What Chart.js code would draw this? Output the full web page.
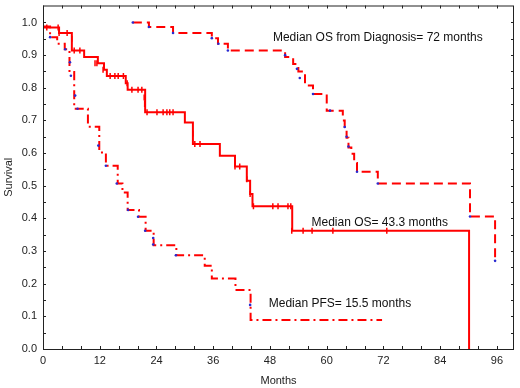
<!DOCTYPE html>
<html>
<head>
<meta charset="utf-8">
<script src="https://cdn.jsdelivr.net/npm/chart.js@4"></script>
<style>
  html, body { margin: 0; padding: 0; background: #fff; }
  #wrap { width: 520px; height: 388px; }
</style>
</head>
<body>
<div id="wrap"><canvas id="km"></canvas></div>
<script>
// ---- data (months, survival) ----
// Overall survival (solid)
const osTime = [0, 3.4, 6.1, 8.7, 11.6, 12.9, 13.5, 17.5, 17.9, 21.6, 30.0, 31.7, 37.4, 40.6, 43.1, 43.8, 44.3, 52.7, 90.1];
const osSurv = [0.985, 0.968, 0.914, 0.894, 0.875, 0.855, 0.836, 0.814, 0.794, 0.725, 0.694, 0.628, 0.592, 0.559, 0.515, 0.475, 0.437, 0.362, 0];
const osCensTime = [0.8, 3.2, 3.4, 5.1, 6.1, 6.6, 7.8, 11.0, 11.4, 12.7, 14.2, 15.2, 15.9, 17.0, 17.8, 18.8, 20.1, 20.9, 21.4, 21.5, 22.0, 24.1, 25.4, 26.2, 26.8, 27.5, 31.7, 32.1, 33.2, 40.6, 41.6, 43.1, 43.8, 44.5, 48.6, 49.7, 51.8, 52.4, 52.6, 55.0, 56.9, 61.3, 72.7];
const osCensSurv = [0.985, 0.985, 0.968, 0.968, 0.95, 0.914, 0.914, 0.875, 0.875, 0.855, 0.836, 0.836, 0.836, 0.836, 0.814, 0.794, 0.794, 0.794, 0.77, 0.75, 0.725, 0.725, 0.725, 0.725, 0.725, 0.725, 0.66, 0.628, 0.628, 0.559, 0.559, 0.52, 0.475, 0.437, 0.437, 0.437, 0.437, 0.437, 0.362, 0.362, 0.362, 0.362, 0.362];

// Progression-free survival (dash-dot)
const pfsTime = [0, 1.5, 3.0, 4.6, 5.6, 6.6, 9.5, 11.9, 13.3, 15.8, 16.8, 17.9, 20.3, 21.7, 23.4, 28.2, 34.2, 35.7, 40.7, 43.9, 71.7];
const pfsSurv = [0.988, 0.955, 0.935, 0.918, 0.848, 0.736, 0.681, 0.602, 0.561, 0.507, 0.479, 0.426, 0.405, 0.362, 0.318, 0.287, 0.255, 0.216, 0.181, 0.089, 0.089];
const pfsCensTime = [1.5, 4.7, 5.7, 5.9, 6.8, 7.3, 11.7, 13.3, 15.6, 18.0, 20.1, 21.6, 23.3, 23.3, 28.1, 43.8];
const pfsCensSurv = [0.955, 0.918, 0.878, 0.837, 0.776, 0.736, 0.623, 0.561, 0.507, 0.426, 0.405, 0.362, 0.34, 0.32, 0.287, 0.135];

// OS from diagnosis (dashed)
const dxTime = [19.0, 22.4, 27.5, 35.7, 37.0, 39.1, 51.2, 52.9, 54.0, 55.4, 57.1, 60.0, 63.4, 63.8, 64.2, 64.6, 65.2, 65.8, 66.4, 70.8, 90.3, 95.6];
const dxSurv = [1.0, 0.986, 0.968, 0.952, 0.935, 0.914, 0.894, 0.873, 0.85, 0.807, 0.781, 0.73, 0.70, 0.675, 0.647, 0.617, 0.598, 0.57, 0.543, 0.507, 0.406, 0.27];
const dxCensTime = [19.0, 22.4, 27.5, 35.7, 37.1, 39.1, 51.2, 53.7, 54.3, 57.1, 60.7, 63.8, 64.2, 64.6, 66.4, 70.8, 90.3, 95.6];
const dxCensSurv = [1.0, 0.986, 0.968, 0.952, 0.935, 0.914, 0.90, 0.858, 0.83, 0.781, 0.73, 0.68, 0.65, 0.62, 0.543, 0.507, 0.406, 0.27];

// ---- axes / labels ----
const xTickMonths = [0, 4, 8, 12, 16, 20, 24, 28, 32, 36, 40, 44, 48, 52, 56, 60, 64, 68, 72, 76, 80, 84, 88, 92, 96];
const xLabelMonths = [0, 12, 24, 36, 48, 60, 72, 84, 96];
const notes = [
  { text: 'Median OS from Diagnosis= 72 months', x: 70.8, y: 0.954 },
  { text: 'Median OS= 43.3 months', x: 71.2, y: 0.386 },
  { text: 'Median PFS= 15.5 months', x: 62.8, y: 0.138 },
];

const RED = '#ff0000';
const BLUE = '#2a2ad0';
const FONT = { family: '"Liberation Sans", Arial, sans-serif', size: 11 };
const NOTE_FONT = '12px "Liberation Sans", Arial, sans-serif';

const pts = (xs, ys) => xs.map((x, i) => ({ x, y: ys[i] }));

// inward tick marks + frame on all four sides, plus text notes
const frame = {
  id: 'frame',
  afterDatasetsDraw(chart) {
    const { ctx, chartArea: a, scales } = chart;
    ctx.save();
    ctx.strokeStyle = '#222';
    ctx.lineWidth = 1;
    ctx.strokeRect(a.left + 0.5, a.top + 0.5, a.right - a.left - 1, a.bottom - a.top);
    ctx.beginPath();
    for (const t of scales.x.ticks) {
      const px = Math.round(scales.x.getPixelForValue(t.value)) + 0.5;
      if (px >= a.right - 1) continue;
      ctx.moveTo(px, a.bottom); ctx.lineTo(px, a.bottom - 3);
      ctx.moveTo(px, a.top); ctx.lineTo(px, a.top + 3);
    }
    for (const t of scales.y.ticks) {
      const py = Math.round(scales.y.getPixelForValue(t.value)) + 0.5;
      if (py <= a.top + 1) continue;
      ctx.moveTo(a.left, py); ctx.lineTo(a.left + 3, py);
      ctx.moveTo(a.right, py); ctx.lineTo(a.right - 3, py);
    }
    ctx.stroke();
    ctx.fillStyle = '#111';
    ctx.font = NOTE_FONT;
    ctx.textAlign = 'center';
    ctx.textBaseline = 'middle';
    for (const n of notes) {
      ctx.fillText(n.text, scales.x.getPixelForValue(n.x), scales.y.getPixelForValue(n.y));
    }
    ctx.restore();
  }
};

const stepLine = (data, dash, width) => ({
  type: 'line', data, stepped: 'before', borderColor: RED, borderWidth: width,
  borderDash: dash, pointRadius: 0, fill: false, order: 2
});

new Chart(document.getElementById('km'), {
  type: 'scatter',
  data: {
    datasets: [
      stepLine(pts(dxTime, dxSurv), [9, 5], 2),
      stepLine(pts(pfsTime, pfsSurv), [9, 4, 2, 4], 2),
      stepLine(pts(osTime, osSurv), [], 2),
      { data: pts(osCensTime, osCensSurv), pointStyle: 'line', rotation: 90, radius: 3,
        borderColor: RED, borderWidth: 1.5, order: 1 },
      { data: pts(pfsCensTime, pfsCensSurv), pointStyle: 'circle', radius: 1.3,
        backgroundColor: BLUE, borderColor: BLUE, borderWidth: 0, order: 1 },
      { data: pts(dxCensTime, dxCensSurv), pointStyle: 'circle', radius: 1.3,
        backgroundColor: BLUE, borderColor: BLUE, borderWidth: 0, order: 1 },
    ]
  },
  options: {
    responsive: true,
    maintainAspectRatio: false,
    animation: false,
    layout: { padding: { top: 5, right: 6, left: 0, bottom: 0 } },
    plugins: { legend: { display: false }, tooltip: { enabled: false } },
    scales: {
      x: {
        type: 'linear', min: 0, max: 99.6,
        grid: { display: false, drawTicks: false },
        border: { display: false },
        ticks: {
          autoSkip: false, maxRotation: 0, padding: 5,
          color: '#222', font: FONT,
          callback: v => xLabelMonths.includes(v) ? String(v) : ''
        },
        afterBuildTicks: s => { s.ticks = xTickMonths.map(v => ({ value: v })); },
        title: { display: true, text: 'Months', color: '#222', font: FONT, padding: 0 },
        afterFit: s => { s.height = 39; s.paddingLeft = 0; s.paddingRight = 0; }
      },
      y: {
        type: 'linear', min: 0, max: 1.052,
        grid: { display: false, drawTicks: false },
        border: { display: false },
        ticks: {
          stepSize: 0.05, autoSkip: false, padding: 6,
          color: '#222', font: FONT,
          callback: v => {
            const t = Math.round(v * 100);
            return (t % 10 === 0 && v <= 1.0001) ? (t / 100).toFixed(1) : '';
          }
        },
        title: { display: true, text: 'Survival', color: '#222', font: FONT, padding: 2 },
        afterFit: s => { s.width = 43; s.paddingTop = 0; s.paddingBottom = 0; }
      }
    }
  },
  plugins: [frame]
});
</script>
</body>
</html>
